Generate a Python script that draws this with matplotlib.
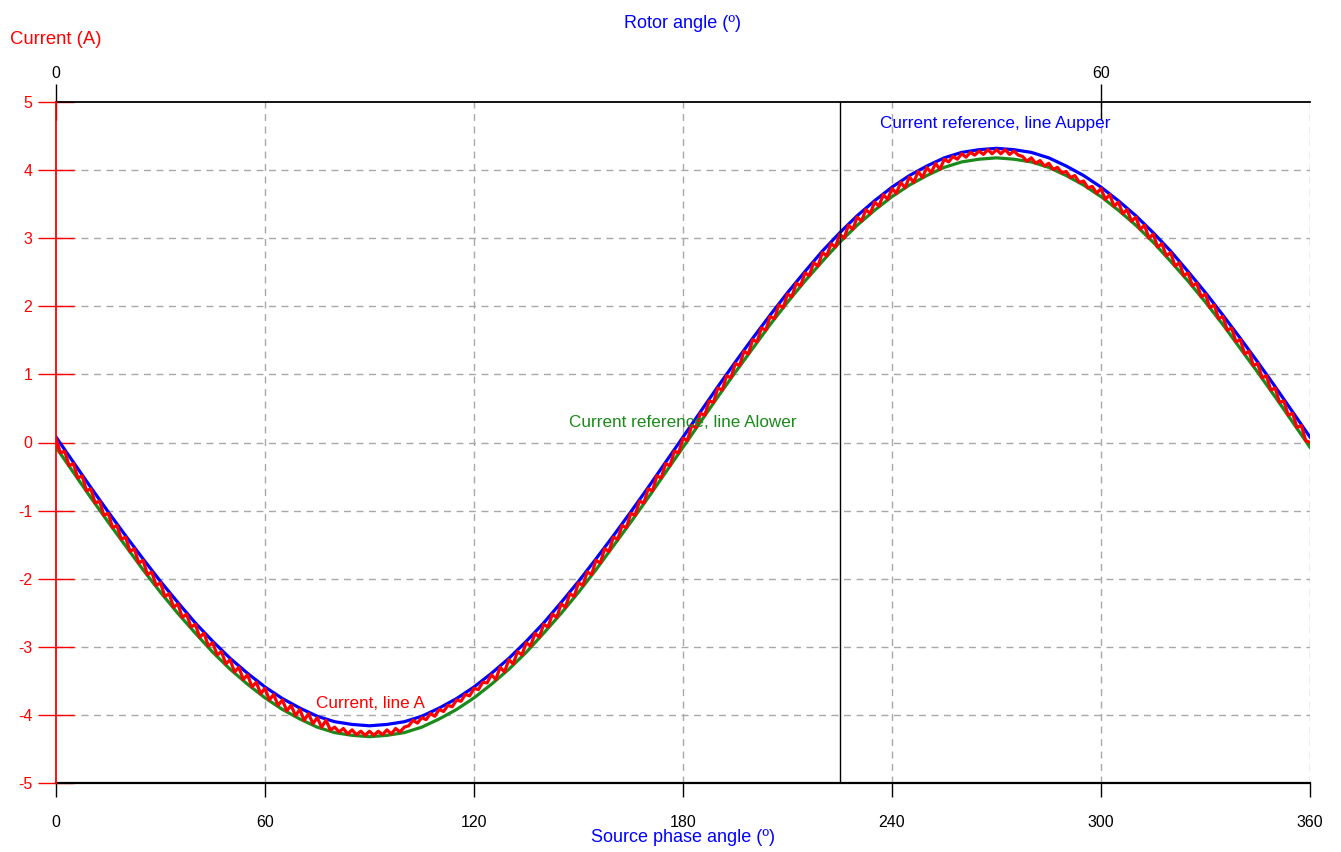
import numpy as np
import matplotlib
matplotlib.use("Agg")
import matplotlib.pyplot as plt

plt.rcParams['font.family'] = ['Liberation Sans Narrow', 'Liberation Sans', 'DejaVu Sans']
plt.rcParams['axes.unicode_minus'] = False

# reference bands, sampled every 5 degrees of source phase angle
ref_step = 5.0
upper = [0.08, -0.29, -0.66, -1.02, -1.37, -1.71, -2.04, -2.35, -2.65, -2.92, -3.17, -3.39, -3.59,
         -3.76, -3.90, -4.02, -4.10, -4.14, -4.16,
         -4.14, -4.10, -4.02, -3.90, -3.76, -3.59, -3.39, -3.17, -2.92, -2.65, -2.35, -2.04, -1.71,
         -1.37, -1.02, -0.66, -0.29, 0.08,
         0.45, 0.82, 1.18, 1.53, 1.87, 2.20, 2.51, 2.81, 3.08, 3.33, 3.55, 3.75, 3.92, 4.06, 4.18,
         4.26, 4.30, 4.32,
         4.30, 4.26, 4.18, 4.06, 3.92, 3.75, 3.55, 3.33, 3.08, 2.81, 2.51, 2.20, 1.87, 1.53, 1.18,
         0.82, 0.45, 0.08]
lower = [-0.07, -0.44, -0.81, -1.17, -1.52, -1.87, -2.20, -2.51, -2.80, -3.08, -3.33, -3.55, -3.75,
         -3.92, -4.06, -4.18, -4.26, -4.30, -4.32,
         -4.30, -4.26, -4.18, -4.06, -3.92, -3.75, -3.55, -3.33, -3.08, -2.80, -2.51, -2.20, -1.87,
         -1.52, -1.17, -0.81, -0.44, -0.07,
         0.30, 0.67, 1.03, 1.38, 1.73, 2.06, 2.37, 2.66, 2.94, 3.19, 3.41, 3.61, 3.78, 3.92, 4.04,
         4.12, 4.16, 4.18,
         4.16, 4.12, 4.04, 3.92, 3.78, 3.61, 3.41, 3.19, 2.94, 2.66, 2.37, 2.06, 1.73, 1.38, 1.03,
         0.67, 0.30, -0.07]

# measured current, sampled every 1.25 degrees
cur_step = 1.25
current = [
    # 0 .. 90
    0.06, -0.15, -0.13, -0.34, -0.31, -0.52, -0.49, -0.71, -0.68, -0.89, -0.86, -1.07, -1.04,
    -1.25, -1.22, -1.42, -1.39, -1.60, -1.56, -1.77, -1.73, -1.94, -1.90, -2.10, -2.06, -2.26,
    -2.22, -2.42, -2.37, -2.57, -2.52, -2.71, -2.67, -2.86, -2.80, -2.99, -2.94, -3.12, -3.07,
    -3.25, -3.19, -3.37, -3.30, -3.48, -3.41, -3.59, -3.52, -3.69, -3.61, -3.78, -3.70, -3.86,
    -3.78, -3.94, -3.86, -4.01, -3.92, -4.08, -3.98, -4.13, -4.04, -4.18, -4.08, -4.22, -4.18,
    -4.25, -4.20, -4.28, -4.22, -4.29, -4.24, -4.30, -4.24,
    # 91.25 .. 180
    -4.30, -4.24, -4.29, -4.22, -4.28, -4.20, -4.25, -4.18, -4.16, -4.08, -4.12, -4.04, -4.07,
    -3.98, -4.02, -3.92, -3.95, -3.86, -3.88, -3.78, -3.80, -3.70, -3.72, -3.61, -3.63, -3.52,
    -3.53, -3.41, -3.48, -3.30, -3.37, -3.19, -3.25, -3.07, -3.12, -2.94, -2.99, -2.80, -2.86,
    -2.67, -2.71, -2.52, -2.57, -2.37, -2.42, -2.22, -2.26, -2.06, -2.10, -1.90, -1.94, -1.73,
    -1.77, -1.56, -1.60, -1.39, -1.42, -1.22, -1.25, -1.04, -1.07, -0.86, -0.89, -0.68, -0.71,
    -0.49, -0.52, -0.31, -0.34, -0.13, -0.15, 0.06,
    # 181.25 .. 270
    0.03, 0.25, 0.22, 0.43, 0.40, 0.61, 0.59, 0.80, 0.77, 0.98, 0.95, 1.16, 1.13, 1.34, 1.30,
    1.51, 1.48, 1.68, 1.65, 1.85, 1.82, 2.02, 1.98, 2.18, 2.14, 2.34, 2.30, 2.49, 2.45, 2.64,
    2.59, 2.79, 2.74, 2.92, 2.87, 3.06, 3.00, 3.19, 3.13, 3.31, 3.25, 3.42, 3.36, 3.53, 3.47,
    3.64, 3.57, 3.73, 3.66, 3.82, 3.74, 3.90, 3.82, 3.98, 3.89, 4.04, 3.96, 4.10, 4.01, 4.16,
    4.12, 4.20, 4.16, 4.24, 4.19, 4.26, 4.22, 4.28, 4.23, 4.30, 4.24, 4.30,
    # 271.25 .. 360
    4.24, 4.30, 4.23, 4.28, 4.22, 4.20, 4.13, 4.18, 4.10, 4.14, 4.06, 4.10, 4.01, 4.04, 3.96,
    3.98, 3.89, 3.92, 3.82, 3.84, 3.74, 3.76, 3.66, 3.73, 3.57, 3.64, 3.47, 3.53, 3.36, 3.42,
    3.25, 3.31, 3.13, 3.19, 3.00, 3.06, 2.87, 2.92, 2.74, 2.79, 2.59, 2.64, 2.45, 2.49, 2.30,
    2.34, 2.14, 2.18, 1.98, 2.02, 1.82, 1.85, 1.65, 1.68, 1.48, 1.51, 1.30, 1.34, 1.13, 1.16,
    0.95, 0.98, 0.77, 0.80, 0.59, 0.61, 0.40, 0.43, 0.22, 0.25, 0.03, 0.00,
]

x_ticks = [0, 60, 120, 180, 240, 300, 360]
y_ticks = [-5, -4, -3, -2, -1, 0, 1, 2, 3, 4, 5]
rotor_ticks = [0, 60]
rotor_ratio = 5.0          # source angle / rotor angle
cursor_angle = 225

ref_x = np.arange(len(upper)) * ref_step
cur_x = np.arange(len(current)) * cur_step

fig = plt.figure(figsize=(13.41, 8.52), dpi=100)
ax = fig.add_axes([56 / 1341, 1 - 783 / 852, (1310 - 56) / 1341, (783 - 102) / 852])

grid_kw = dict(color='#a8a8a8', lw=1.0, ls=(0, (5, 4)), zorder=0)
for gx in x_ticks[1:]:
    ax.axvline(gx, **grid_kw)
for gy in y_ticks[1:-1]:
    ax.axhline(gy, **grid_kw)

ax.plot(ref_x, lower, color='#1a8a1a', lw=2.3, zorder=2)
ax.plot(ref_x, upper, color='#0000ff', lw=2.3, zorder=3)
ax.plot(cur_x, current, color='#ff0000', lw=2.3, zorder=4)
ax.axvline(cursor_angle, color='black', lw=1.0, zorder=5)

ax.set_xlim(0, 360)
ax.set_ylim(-5, 5)
ax.set_xticks(x_ticks)
ax.set_yticks(y_ticks)

ax.spines['right'].set_visible(False)
ax.spines['top'].set_linewidth(1.3)
ax.spines['bottom'].set_linewidth(1.6)
ax.spines['left'].set_color('#ff0000')
ax.spines['left'].set_linewidth(1.3)
ax.spines['left'].set_zorder(6)

ax.tick_params(axis='x', direction='out', length=10, width=1, pad=13, labelsize=11.5, colors='black')
ax.tick_params(axis='y', direction='inout', length=26, width=1, pad=4, labelsize=11.5,
               colors='#ff0000')

sec = ax.secondary_xaxis('top', functions=(lambda a: a / rotor_ratio, lambda r: r * rotor_ratio))
sec.set_xticks(rotor_ticks)
sec.tick_params(direction='inout', length=26, width=1, pad=2, labelsize=11.5)
sec.spines['top'].set_visible(False)

ax.text(236.6, 4.68, 'Current reference, line Aupper', color='#0000ff', fontsize=12.3,
        va='center', ha='left', zorder=7)
ax.text(147.2, 0.30, 'Current reference, line Alower', color='#1a8a1a', fontsize=12.3,
        va='center', ha='left', zorder=7)
ax.text(74.6, -3.83, 'Current, line A', color='#ff0000', fontsize=12.3,
        va='center', ha='left', zorder=7)

fig.text(56 / 1341, 1 - 40 / 852, 'Current (A)', color='#ff0000', fontsize=13.3,
         ha='center', va='center')
fig.text(683 / 1341, 1 - 23 / 852, 'Rotor angle (º)', color='#0000ff', fontsize=13,
         ha='center', va='center')
fig.text(683 / 1341, 1 - 838 / 852, 'Source phase angle (º)', color='#0000ff', fontsize=13,
         ha='center', va='center')

fig.savefig('out.png', dpi=100)
